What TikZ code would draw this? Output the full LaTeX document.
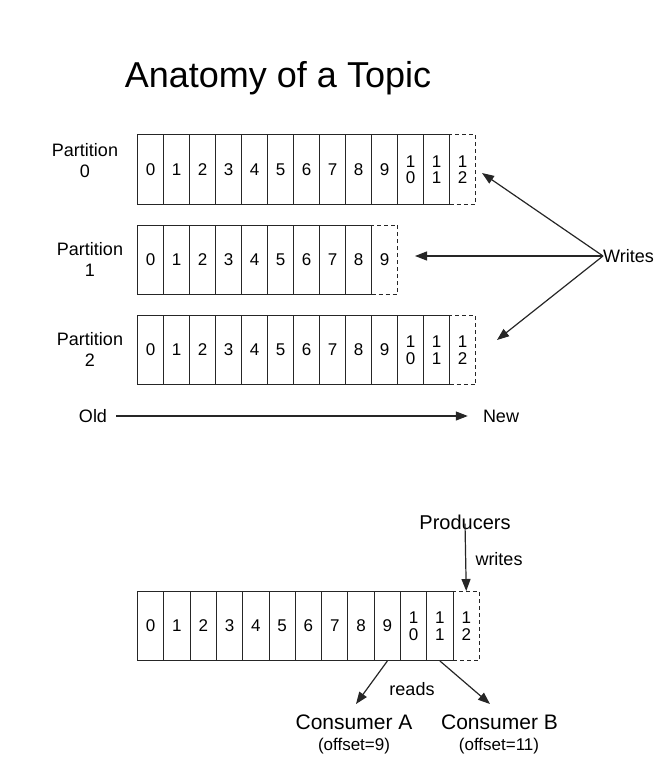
\documentclass[tikz,border=0pt]{standalone}
\usepackage{fontspec}
\setmainfont{Liberation Sans}
\usetikzlibrary{arrows.meta}
\begin{document}
\begin{tikzpicture}[x=1pt,y=-1pt,
  cell/.style={draw=black!85,line width=1pt,minimum width=26pt,minimum height=69pt,anchor=north west,inner sep=0pt,font=\fontsize{17}{16.5}\selectfont,align=center},
  bcell/.style={cell,minimum width=26.3pt},
  dcell/.style={dash pattern=on 4pt off 3pt},
  lbl/.style={font=\fontsize{18}{21}\selectfont,align=center,inner sep=0pt},
  arr/.style={line width=1.2pt,draw=black!85,-{Triangle[length=12pt,width=9pt]}}]
\useasboundingbox (0,0) rectangle (671,762);
% title
\node[inner sep=0pt,font=\fontsize{36}{40}\selectfont] (title) at (278,78) {Anatomy of a Topic};
% partition labels
\node[lbl] (l0) at (85,161) {Partition\\0};
\node[lbl] (l1) at (90,259) {Partition\\1};
\node[lbl] (l2) at (90,349.5) {Partition\\2};
% partition 0
\foreach \t [count=\i from 0] in {0,1,2,3,4,5,6,7,8,9,{1\\0},{1\\1}}
  {\node[cell] (a\i) at ({137+26*\i},134.5) {\t};}
\node[cell,dcell] (a12) at (449,134.5) {1\\2};
% partition 1
\foreach \t [count=\i from 0] in {0,1,2,3,4,5,6,7,8}
  {\node[cell] (b\i) at ({137+26*\i},224.5) {\t};}
\node[cell,dcell] (b9) at (371,224.5) {9};
% partition 2
\foreach \t [count=\i from 0] in {0,1,2,3,4,5,6,7,8,9,{1\\0},{1\\1}}
  {\node[cell] (c\i) at ({137+26*\i},315) {\t};}
\node[cell,dcell] (c12) at (449,315) {1\\2};
% writes
\node[lbl,anchor=west] (w) at (603,256) {Writes};
\coordinate (ta) at (482,173);
\coordinate (tb) at (415,256);
\coordinate (tc) at (497,340);
\draw[arr] (w.west) -- (ta);
\draw[arr] (w.west) -- (tb);
\draw[arr] (w.west) -- (tc);
% old/new
\node[lbl] (old) at (93,416) {Old};
\node[lbl] (new) at (501,416) {New};
\draw[arr] ([xshift=9pt]old.east) -- ([xshift=-15pt]new.west);
% bottom log
\foreach \t [count=\i from 0] in {0,1,2,3,4,5,6,7,8,9,{1\\0},{1\\1}}
  {\node[bcell] (d\i) at ({137+26.3*\i},591) {\t};}
\node[bcell,dcell] (d12) at (452.6,591) {1\\2};
\node[inner sep=0pt,font=\fontsize{20}{24}\selectfont] (prod) at (465,522) {Producers};
\node[lbl] (wr) at (499,559) {writes};
\draw[arr] ([yshift=6pt]prod.south) -- (d12.north);
\node[inner sep=0pt,font=\fontsize{21}{24}\selectfont] (ca) at (354,722) {Consumer A};
\node[lbl,font=\fontsize{17}{20}\selectfont] (oa) at (354,746) {(offset=9)};
\node[inner sep=0pt,font=\fontsize{21}{24}\selectfont] (cb) at (499.5,722) {Consumer B};
\node[lbl,font=\fontsize{17}{20}\selectfont] (ob) at (499,746) {(offset=11)};
\node[lbl] (rd) at (412,689) {reads};
\coordinate (ra) at (356,704);
\coordinate (rb) at (490,704);
\draw[arr] (d9.south) -- (ra);
\draw[arr] (d11.south) -- (rb);
\end{tikzpicture}
\end{document}
